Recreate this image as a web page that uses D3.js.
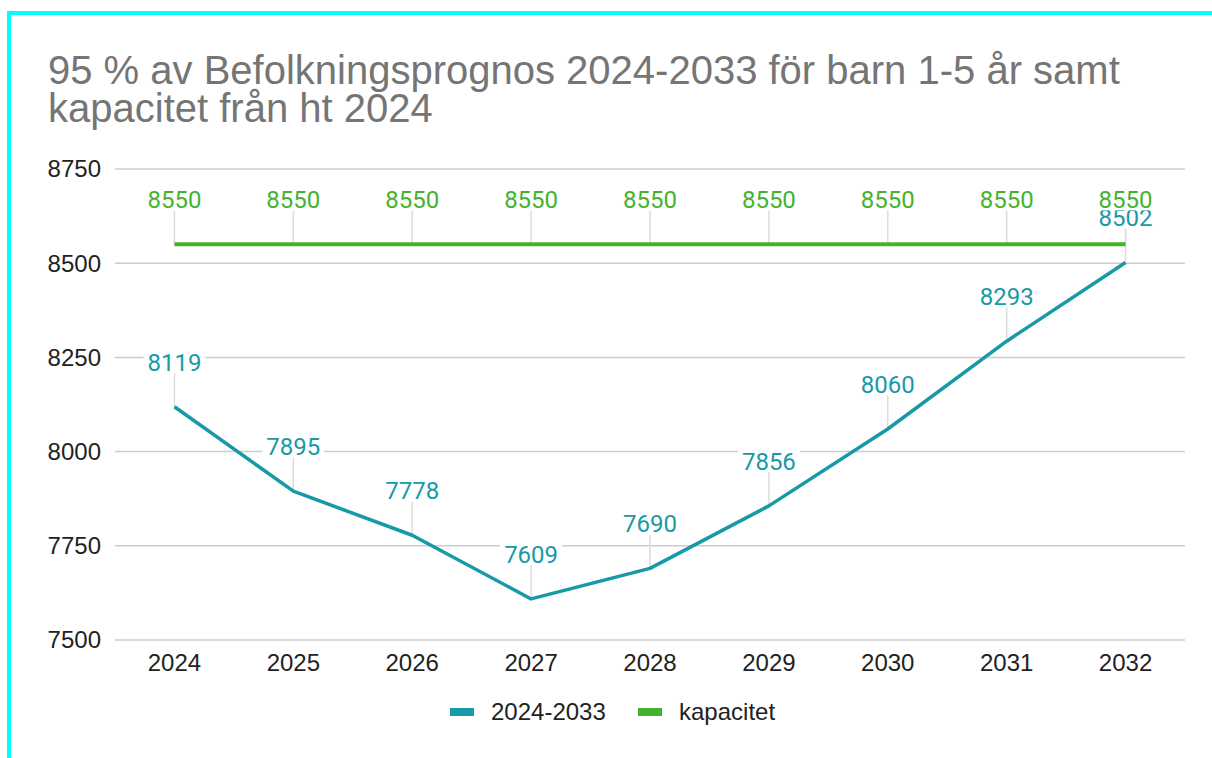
<!DOCTYPE html>
<html>
<head>
    <meta charset="utf-8" />
    <title>Befolkningsprognos</title>
    <script src="https://cdn.jsdelivr.net/npm/d3@7"></script>
    <style>
        body { margin: 0; background: #fff; }
        svg { display: block; }
    </style>
</head>
<body>
<script>
    var years = ["2024", "2025", "2026", "2027", "2028", "2029", "2030", "2031", "2032"];
    var prognos = [8119, 7895, 7778, 7609, 7690, 7856, 8060, 8293, 8502];
    var kapacitet = [8550, 8550, 8550, 8550, 8550, 8550, 8550, 8550, 8550];
    var yTicks = [7500, 7750, 8000, 8250, 8500, 8750];
    var seriesNames = ["2024-2033", "kapacitet"];

    var width = 1212, height = 758;
    var teal = "#1799a8", green = "#45b22e";
    var font = "Liberation Sans, Arial, sans-serif";

    var svg = d3.select("body").append("svg")
        .attr("width", width)
        .attr("height", height);

    // cyan frame (top + left only, as in the screenshot)
    svg.append("rect").attr("x", 7).attr("y", 11).attr("width", width).attr("height", 4).attr("fill", "#00ffff");
    svg.append("rect").attr("x", 7).attr("y", 11).attr("width", 4).attr("height", height).attr("fill", "#00ffff");

    svg.append("text")
        .attr("x", 48).attr("y", 84)
        .style("font-family", font)
        .style("font-size", "40px")
        .attr("fill", "#757575")
        .text("95 % av Befolkningsprognos 2024-2033 för barn 1-5 år samt");
    svg.append("text")
        .attr("x", 48).attr("y", 122)
        .style("font-family", font)
        .style("font-size", "40px")
        .attr("fill", "#757575")
        .text("kapacitet från ht 2024");

    var x = d3.scaleBand().domain(years).range([115, 1185]);
    var y = d3.scaleLinear().domain([7500, 8750]).range([640, 169]);
    var cx = function (d) { return x(d) + x.bandwidth() / 2; };

    // gridlines + y labels
    var grid = svg.append("g");
    grid.selectAll("line").data(yTicks).enter().append("line")
        .attr("x1", 115).attr("x2", 1185)
        .attr("y1", function (d) { return y(d); })
        .attr("y2", function (d) { return y(d); })
        .attr("stroke", "#cccccc").attr("stroke-width", 1.5);
    grid.selectAll("text").data(yTicks).enter().append("text")
        .attr("x", 101)
        .attr("y", function (d) { return y(d); })
        .attr("dy", "0.35em")
        .attr("text-anchor", "end")
        .style("font-family", font)
        .style("font-size", "24px")
        .attr("fill", "#222")
        .text(function (d) { return d; });

    // x labels
    svg.append("g").selectAll("text").data(years).enter().append("text")
        .attr("x", cx)
        .attr("y", 671)
        .attr("text-anchor", "middle")
        .style("font-family", font)
        .style("font-size", "24px")
        .attr("fill", "#222")
        .text(function (d) { return d; });

    var series = [
        { name: seriesNames[0], values: prognos, color: teal, width: 3.5 },
        { name: seriesNames[1], values: kapacitet, color: green, width: 4 }
    ];

    var line = d3.line()
        .x(function (d, i) { return cx(years[i]); })
        .y(function (d) { return y(d); });

    // leader lines
    series.forEach(function (s) {
        var g = svg.append("g");
        s.values.forEach(function (v, i) {
            var px = cx(years[i]), py = y(v);
            g.append("line")
                .attr("x1", px).attr("x2", px)
                .attr("y1", py - 34).attr("y2", py)
                .attr("stroke", "#dddddd").attr("stroke-width", 1.5);
        });
    });

    series.forEach(function (s) {
        svg.append("path")
            .datum(s.values)
            .attr("d", line)
            .attr("fill", "none")
            .attr("stroke", s.color)
            .attr("stroke-width", s.width)
            .attr("stroke-linejoin", "round");
    });

    // data labels
    series.forEach(function (s) {
        var g = svg.append("g");
        s.values.forEach(function (v, i) {
            var px = cx(years[i]), py = y(v);
            g.append("rect")
                .attr("x", px - 31).attr("y", py - 57)
                .attr("width", 62).attr("height", 23)
                .attr("fill", "#fff");
        });
        s.values.forEach(function (v, i) {
            var px = cx(years[i]), py = y(v);
            g.append("text")
                .attr("x", px).attr("y", py - 36)
                .attr("text-anchor", "middle")
                .style("font-family", "Roboto, sans-serif")
                .style("font-size", "24px")
                .attr("fill", s.color)
                .text(v);
        });
    });

    // legend
    var legend = svg.append("g");
    var legendX = [450, 638];
    series.forEach(function (s, i) {
        legend.append("rect")
            .attr("x", legendX[i]).attr("y", 708)
            .attr("width", 24).attr("height", 8)
            .attr("fill", s.color);
        legend.append("text")
            .attr("x", legendX[i] + 41).attr("y", 712)
            .attr("dy", "0.35em")
            .style("font-family", font)
            .style("font-size", "24px")
            .attr("fill", "#222")
            .text(s.name);
    });
</script>
</body>
</html>
